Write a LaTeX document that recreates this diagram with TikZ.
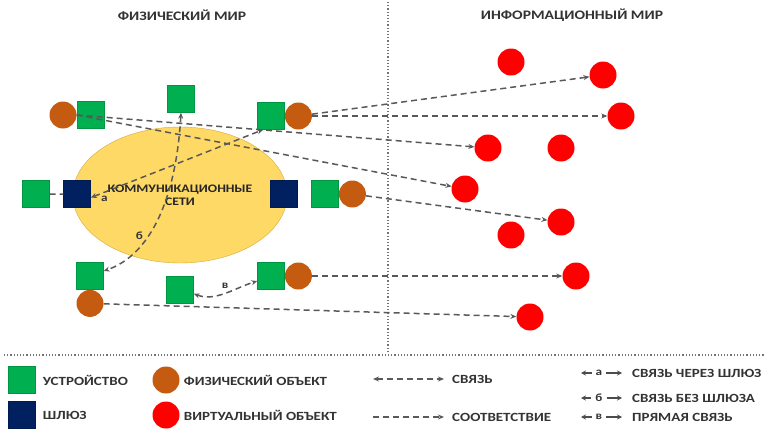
\documentclass[tikz,border=0pt]{standalone}
\usepackage{fontspec}
\setmainfont{Carlito}[FakeStretch=1.2]
\usetikzlibrary{positioning, arrows.meta, shapes.geometric}
\definecolor{devgreen}{RGB}{0,176,80}
\definecolor{gatenavy}{RGB}{0,32,96}
\definecolor{physbrown}{RGB}{197,90,17}
\definecolor{virtred}{RGB}{255,0,0}
\definecolor{netgold}{RGB}{255,217,102}
\definecolor{netedge}{RGB}{214,170,60}
\tikzset{
  device/.style ={rectangle, draw=devgreen!85!black, fill=devgreen,
    minimum size=27pt, inner sep=0pt},
  gateway/.style={rectangle, draw=gatenavy!85!black, fill=gatenavy,
    minimum size=27pt, inner sep=0pt},
  physobj/.style={circle, fill=physbrown, minimum size=27pt, inner sep=0pt},
  virtobj/.style={circle, fill=virtred, minimum size=27pt, inner sep=0pt},
  network/.style={ellipse, draw=netedge, fill=netgold, minimum width=206pt,
    minimum height=136pt, align=center, text=black!85,
    font=\bfseries\fontsize{11.5}{13}\selectfont},
  world title/.style={font=\bfseries\fontsize{13}{15}\selectfont, text=black!80},
  legend text/.style={anchor=west, inner sep=0pt, text=black!80,
    font=\bfseries\fontsize{12.5}{14}\selectfont},
  tag/.style={font=\bfseries\fontsize{11}{13}\selectfont, text=black!80, inner sep=1pt},
  link/.style={line width=1.5pt, draw=black!65, dash pattern=on 6pt off 4pt,
    {Stealth[length=6pt, width=5pt]}-{Stealth[length=6pt, width=5pt]}},
  match/.style={line width=1.5pt, draw=black!65, dash pattern=on 6pt off 4pt,
    -{Stealth[length=6pt, width=5pt]}},
  key arrow/.style={line width=1.2pt, draw=black!70, shorten <=3pt,
    -{Stealth[length=5pt, width=5pt]}},
  divider/.style={draw=black!55, line width=1.2pt, dotted},
}

\begin{document}
\begin{tikzpicture}[x=1pt, y=-1pt]
  \useasboundingbox (0,0) rectangle (766,431);

  % Titles and dividers
  \node[world title] (physT) at (182,15) {ФИЗИЧЕСКИЙ МИР};
  \node[world title] (infoT) at (572,15) {ИНФОРМАЦИОННЫЙ МИР};
  \coordinate (vTop) at (388,2);
  \coordinate (vBot) at (388,352);
  \coordinate (hL) at (4,355);
  \coordinate (hR) at (766,355);
  \draw[divider] (vTop) -- (vBot);
  \draw[divider] (hL) -- (hR);

  % Communication network
  \node[network] (net) at (180,195) {КОММУНИКАЦИОННЫЕ\\СЕТИ};

  % Physical world
  \node[physobj] (o1) at (63,115) {};
  \node[device, right=0pt of o1] (d1) {};
  \node[device] (d2) at (181,99) {};
  \node[device] (d3) at (271,116) {};
  \node[physobj, right=0pt of d3] (o3) {};
  \node[device] (d4) at (36,194) {};
  \node[gateway] (g1) at (77,194) {};
  \node[gateway] (g2) at (284,194) {};
  \node[device] (d5) at (325,194) {};
  \node[physobj, right=0pt of d5] (o5) {};
  \node[device] (d6) at (90,276) {};
  \node[physobj, below=0pt of d6] (o6) {};
  \node[device] (d7) at (180,290) {};
  \node[device] (d8) at (271,276) {};
  \node[physobj, right=0pt of d8] (o8) {};

  % Information world
  \node[virtobj] (v1) at (511,62) {};
  \node[virtobj] (v2) at (603,75) {};
  \node[virtobj] (v3) at (621,116) {};
  \node[virtobj] (v4) at (488,148) {};
  \node[virtobj] (v5) at (561,148) {};
  \node[virtobj] (v6) at (465,189) {};
  \node[virtobj] (v7) at (561,222) {};
  \node[virtobj] (v8) at (511,235) {};
  \node[virtobj] (v9) at (576,276) {};
  \node[virtobj] (v10) at (530,317) {};

  % Correspondence
  \draw[match] (o1.east) -- (v4);
  \draw[match] (o1.east) -- (v6);
  \draw[match] (o3) -- (v2);
  \draw[match] (o3) -- (v3);
  \draw[match] (o5) -- (v7);
  \draw[match] (o8) -- (v9);
  \draw[match] (o6) -- (v10);

  % Links
  \draw[link] (d4) -- (g1.west) (g1.-15) -- node[tag, pos=0.08, below=2pt] {а} (d3.240);
  \draw[link] (d2.south) .. controls (176,200) and (150,255) .. node[tag, pos=0.62, left=3pt] {б} (d6.20);
  \draw[link] (d7.-15) .. controls (215,302) and (235,288) .. node[tag, pos=0.5, above=3pt] {в} (d8.200);

  % Legend
  \node[device] (kDev) at (22,380) {};
  \node[legend text, right=7pt of kDev] (tDev) {УСТРОЙСТВО};
  \node[gateway] (kGate) at (22,415) {};
  \node[legend text, right=7pt of kGate] (tGate) {ШЛЮЗ};
  \node[physobj] (kPhys) at (166,380) {};
  \node[legend text, right=4pt of kPhys] (tPhys) {ФИЗИЧЕСКИЙ ОБЪЕКТ};
  \node[virtobj] (kVirt) at (166,415) {};
  \node[legend text, right=4pt of kVirt] (tVirt) {ВИРТУАЛЬНЫЙ ОБЪЕКТ};
  \node[legend text] (tLink) at (452,379) {СВЯЗЬ};
  \coordinate (kLink) at (373,379);
  \draw[link] (kLink) -- ([xshift=-8pt]tLink.west);
  \node[legend text] (tMatch) at (452,417) {СООТВЕТСТВИЕ};
  \coordinate (kMatch) at (373,417);
  \draw[match] (kMatch) -- ([xshift=-8pt]tMatch.west);
  \foreach \l/\t/\y in {а/СВЯЗЬ ЧЕРЕЗ ШЛЮЗ/373, б/СВЯЗЬ БЕЗ ШЛЮЗА/398, в/ПРЯМАЯ СВЯЗЬ/417} {
    \node[tag] (kTag\y) at (599,\y) {\l};
    \coordinate (kLeft\y) at (581,\y);
    \coordinate (kRight\y) at (622,\y);
    \draw[key arrow] (kTag\y) -- (kLeft\y);
    \draw[key arrow] (kTag\y) -- (kRight\y);
    \node[legend text] (kText\y) at (632,\y) {\t};
  }

\end{tikzpicture}
\end{document}
